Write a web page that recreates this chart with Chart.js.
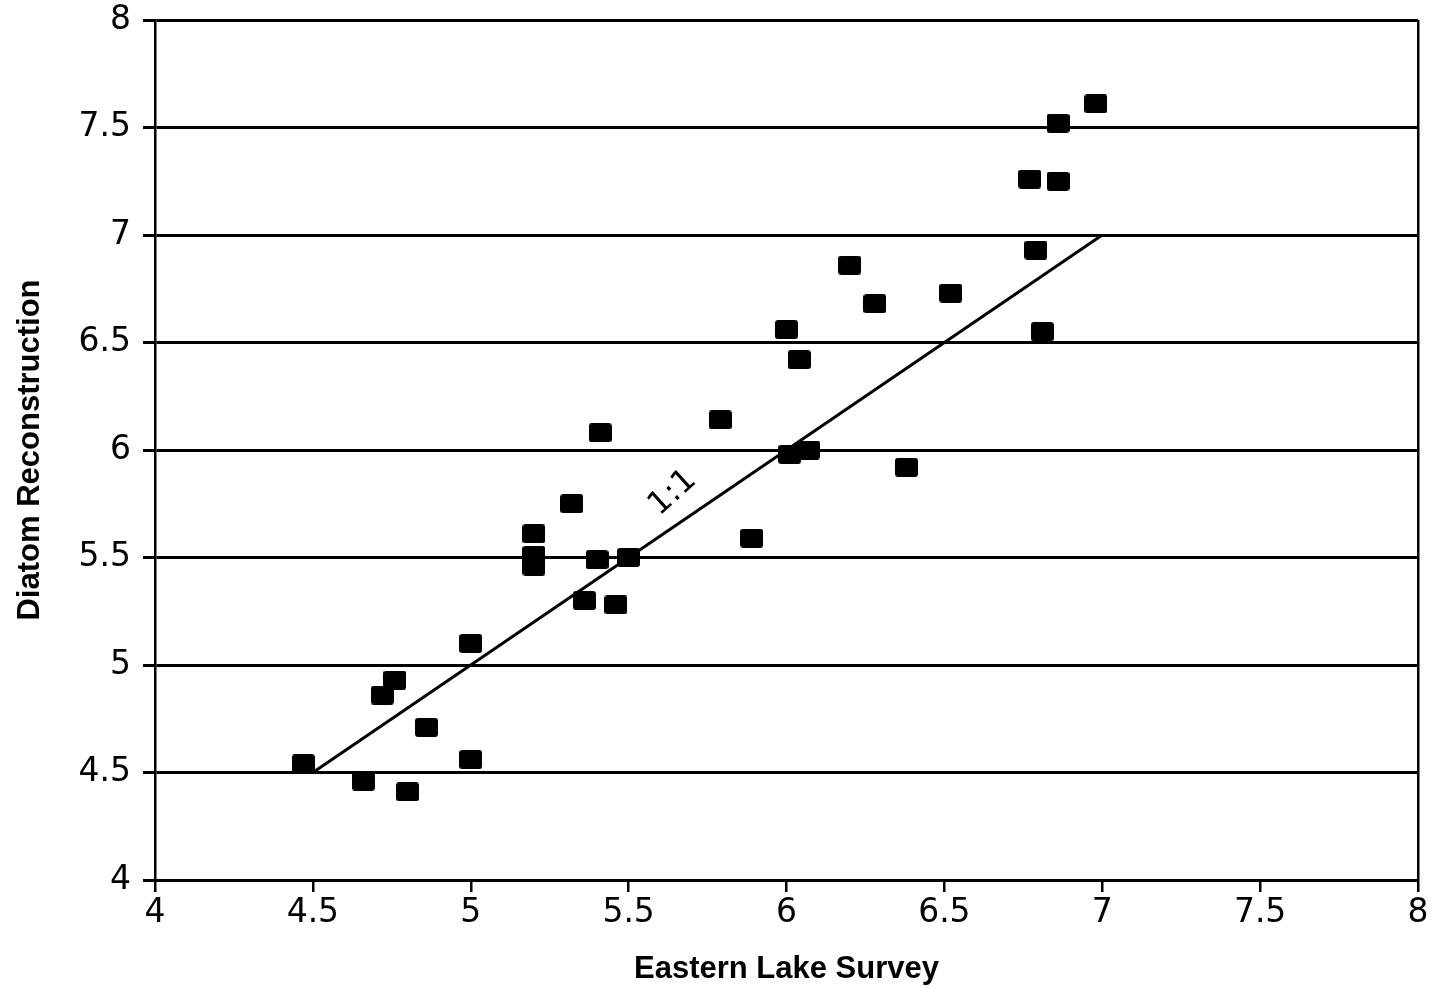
<!DOCTYPE html>
<html>
<head>
<meta charset="utf-8">
<script src="https://cdn.jsdelivr.net/npm/chart.js@4/dist/chart.umd.min.js"></script>
<style>
  html, body { margin: 0; padding: 0; background: #fff; }
  #wrap { width: 1446px; height: 988px; }
</style>
</head>
<body>
<div id="wrap"><canvas id="myChart" width="1446" height="988"></canvas></div>
<script>
// Eastern Lake Survey pH (x) vs diatom reconstructed pH (y)
var surveyPh = [4.47, 4.66, 4.72, 4.76, 4.80, 4.86, 5.00, 5.00, 5.20, 5.20, 5.20,
                5.32, 5.36, 5.40, 5.41, 5.46, 5.50, 5.79, 5.89, 6.00, 6.01, 6.04,
                6.07, 6.20, 6.28, 6.38, 6.52, 6.77, 6.79, 6.81, 6.86, 6.86, 6.98];
var diatomPh = [4.54, 4.46, 4.86, 4.93, 4.41, 4.71, 4.56, 5.10, 5.61, 5.51, 5.46,
                5.75, 5.30, 5.49, 6.08, 5.28, 5.50, 6.14, 5.59, 6.56, 5.98, 6.42,
                6.00, 6.86, 6.68, 5.92, 6.73, 7.26, 6.93, 6.55, 7.52, 7.25, 7.61];
// 1:1 reference line end points
var oneToOneX = [4.5, 7];
var oneToOneY = [4.5, 7];
var tickFont = { family: 'DejaVu Sans', size: 33 };
var titleFont = { family: 'Liberation Sans', size: 31, weight: 'bold' };

// small rounded black square used as the marker
var marker = document.createElement('canvas');
marker.width = 23; marker.height = 19;
(function(){
  var c = marker.getContext('2d');
  c.fillStyle = '#000';
  c.beginPath();
  c.roundRect(0, 0, 23, 19, 3);
  c.fill();
})();

var points = surveyPh.map(function(v, i){ return { x: v, y: diatomPh[i] }; });
var linePts = oneToOneX.map(function(v, i){ return { x: v, y: oneToOneY[i] }; });

// tick text like the original: 4, 4.5, 5 ...
function fmt(v){ return String(Math.round(v * 10) / 10); }

// draws the "1:1" note next to the line
var labelPlugin = {
  id: 'oneToOneLabel',
  afterDatasetsDraw: function(chart){
    var ctx = chart.ctx;
    var px = chart.scales.x.getPixelForValue(5.64);
    var py = chart.scales.y.getPixelForValue(5.80);
    ctx.save();
    ctx.translate(px, py);
    ctx.rotate(-42 * Math.PI / 180);
    ctx.font = '32px "DejaVu Sans"';
    ctx.fillStyle = '#000';
    ctx.textAlign = 'center';
    ctx.textBaseline = 'middle';
    ctx.fillText('1:1', 0, 0);
    ctx.restore();
  }
};

new Chart(document.getElementById('myChart').getContext('2d'), {
  type: 'scatter',
  data: {
    datasets: [
      {
        type: 'line',
        data: linePts,
        borderColor: '#000',
        borderWidth: 3,
        pointRadius: 0,
        fill: false
      },
      {
        data: points,
        pointStyle: marker,
        pointRadius: 11,
        backgroundColor: '#000',
        borderColor: '#000'
      }
    ]
  },
  options: {
    responsive: false,
    animation: false,
    events: [],
    layout: { padding: { top: 0, right: 28, left: 12, bottom: 0 } },
    plugins: { legend: { display: false }, tooltip: { enabled: false } },
    scales: {
      x: {
        type: 'linear',
        min: 4, max: 8,
        ticks: { stepSize: 0.5, color: '#000', font: tickFont, padding: 2, maxRotation: 0, callback: fmt },
        grid: {
          drawOnChartArea: true,
          color: function(c){ return c.tick && c.tick.value === 8 ? '#000' : 'rgba(0,0,0,0)'; },
          tickColor: '#000',
          tickLength: 12,
          lineWidth: 2.5
        },
        border: { color: '#000', width: 3 },
        title: {
          display: true,
          text: 'Eastern Lake Survey',
          color: '#000',
          font: titleFont,
          padding: { top: 8, bottom: 0 }
        },
        afterFit: function(s){ s.height = 108; }
      },
      y: {
        type: 'linear',
        min: 4, max: 8,
        ticks: { stepSize: 0.5, color: '#000', font: tickFont, padding: 12, callback: fmt },
        grid: {
          color: '#000',
          lineWidth: 3,
          tickLength: 12
        },
        border: { color: '#000', width: 2.5 },
        title: {
          display: true,
          text: 'Diatom Reconstruction',
          color: '#000',
          font: titleFont,
          padding: { top: 0, bottom: 0 }
        },
        afterFit: function(s){ s.width = 143; s.paddingTop = 20; }
      }
    }
  },
  plugins: [labelPlugin]
});
</script>
</body>
</html>
